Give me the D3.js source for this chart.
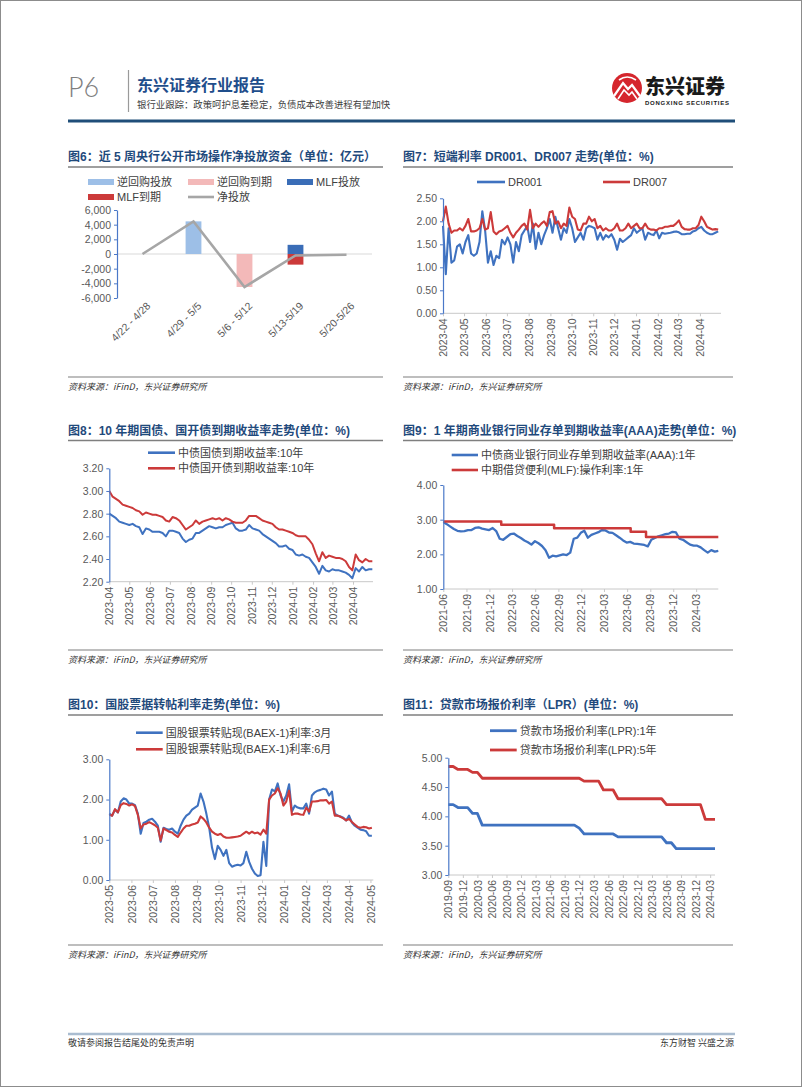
<!DOCTYPE html>
<html><head><meta charset="utf-8">
<script src="https://cdn.jsdelivr.net/npm/d3@7"></script>
<style>body{margin:0;background:#fff;}svg{display:block;}</style>
</head><body>
<svg id="c" width="802" height="1087"></svg>
<script>
// ---------------- DATA ----------------
// Fig 6
const weekCats = ["4/22 - 4/28","4/29 - 5/5","5/6 - 5/12","5/13-5/19","5/20-5/26"];
const rrInject = [0, 4450, 0, 0, 0];
const rrMature = [0, 0, -4500, 0, 0];
const mlfInject = [0, 0, 0, 1250, 0];
const mlfMature = [0, 0, 0, -1450, 0];
const netInject = [0, 4450, -4500, -200, -100];
const fig6Ticks = [-6000,-4000,-2000,0,2000,4000,6000];
// Fig 7 (sampled every 4 days from 2023-04-01)
const drStart = "2023-04-01", drStep = 4;
const dr001 = [1.90,0.85,1.85,1.10,1.15,1.45,1.50,1.30,1.55,1.70,
 1.30,1.25,1.30,1.55,2.22,1.80,1.10,1.35,1.05,1.25,
 1.20,1.60,1.50,1.65,1.50,1.10,1.55,1.35,1.70,1.80,
 1.90,1.55,1.95,1.40,1.75,1.50,1.70,1.85,2.05,1.75,
 2.10,1.85,1.60,1.85,1.75,2.05,1.85,1.55,1.65,1.75,
 1.60,1.85,1.90,1.88,1.85,1.60,1.75,1.60,1.70,1.65,
 1.72,1.60,1.38,1.62,1.55,1.60,1.65,1.70,1.85,1.75,
 1.80,1.85,1.60,1.75,1.72,1.70,1.80,1.63,1.75,1.73,
 1.74,1.75,1.77,1.78,1.76,1.72,1.72,1.73,1.73,1.78,
 1.80,1.85,1.88,1.80,1.75,1.72,1.72,1.75,1.78];
const dr007 = [2.00,2.32,1.95,1.75,1.80,1.80,1.85,1.80,1.90,2.05,
 1.78,1.78,1.80,1.85,2.05,1.82,1.85,2.20,1.78,1.72,
 1.78,1.80,1.85,1.90,1.75,1.65,1.75,1.82,1.90,1.95,
 1.82,2.25,1.85,1.95,1.88,1.95,2.00,1.90,2.20,2.22,
 1.95,2.00,1.85,1.95,1.90,2.30,2.10,2.05,1.82,1.80,
 1.95,1.95,2.10,2.00,2.05,1.85,1.90,1.80,1.85,1.80,
 1.80,1.85,1.95,1.80,1.80,1.85,1.95,1.85,1.90,1.95,
 1.85,1.85,1.95,1.85,1.82,1.82,1.80,1.85,1.85,1.88,
 1.88,1.90,1.90,1.95,2.02,1.88,1.83,1.82,1.82,1.85,
 1.85,1.92,2.10,2.00,1.88,1.85,1.82,1.83,1.82];
const monthTicks2023 = ["2023-04","2023-05","2023-06","2023-07","2023-08","2023-09","2023-10","2023-11","2023-12","2024-01","2024-02","2024-03","2024-04"];
const fig7YTicks = [0,0.5,1.0,1.5,2.0,2.5];
// Fig 8 (sampled every 5 days from 2023-04-01)
const bondStart = "2023-04-01", bondStep = 5;
const gov10y = [2.80,2.78,2.76,2.73,2.72,2.71,2.70,2.71,2.69,2.68,
 2.62,2.67,2.66,2.64,2.64,2.64,2.63,2.60,2.65,2.65,
 2.64,2.63,2.58,2.55,2.57,2.58,2.63,2.63,2.65,2.67,
 2.69,2.68,2.67,2.68,2.68,2.70,2.71,2.72,2.67,2.65,
 2.65,2.66,2.70,2.67,2.66,2.65,2.62,2.60,2.58,2.56,
 2.54,2.51,2.51,2.52,2.49,2.48,2.44,2.43,2.44,2.42,
 2.41,2.37,2.33,2.27,2.34,2.30,2.29,2.31,2.30,2.30,
 2.29,2.28,2.26,2.23,2.32,2.29,2.33,2.30,2.31,2.31];
const cdb10y = [3.00,2.95,2.93,2.91,2.88,2.87,2.86,2.85,2.83,2.82,
 2.79,2.81,2.80,2.79,2.79,2.78,2.77,2.74,2.73,2.77,
 2.76,2.74,2.70,2.66,2.68,2.70,2.74,2.71,2.73,2.74,
 2.75,2.76,2.75,2.76,2.74,2.76,2.75,2.73,2.72,2.72,
 2.72,2.74,2.78,2.78,2.78,2.76,2.74,2.73,2.72,2.71,
 2.68,2.66,2.66,2.65,2.64,2.63,2.61,2.60,2.60,2.60,
 2.57,2.53,2.45,2.38,2.46,2.41,2.43,2.42,2.41,2.41,
 2.40,2.38,2.33,2.30,2.44,2.39,2.37,2.40,2.38,2.38];
const fig8YTicks = [2.2,2.4,2.6,2.8,3.0,3.2];
// Fig 9 (CD sampled every 14 days from 2021-06-01)
const cdStart = "2021-06-01", cdStep = 14;
const cdAAA1y = [2.93,2.87,2.80,2.73,2.68,2.66,2.67,2.70,2.70,2.76,
 2.78,2.74,2.72,2.70,2.76,2.67,2.45,2.42,2.50,2.58,
 2.60,2.53,2.47,2.40,2.35,2.28,2.38,2.32,2.24,2.12,
 1.90,1.96,1.94,1.97,2.00,1.98,2.05,2.45,2.48,2.62,
 2.68,2.48,2.56,2.60,2.64,2.70,2.69,2.63,2.62,2.55,
 2.48,2.40,2.34,2.36,2.31,2.30,2.29,2.27,2.23,2.42,
 2.47,2.52,2.55,2.58,2.60,2.65,2.63,2.45,2.42,2.35,
 2.28,2.25,2.25,2.20,2.12,2.05,2.12,2.08,2.10];
const mlfDates = ["2021-06-01","2022-01-17","2022-08-15","2023-06-15","2023-08-15","2024-05-28"];
const mlfRates = [2.95,2.85,2.75,2.65,2.50,2.50];
const quarterTicks = ["2021-06","2021-09","2021-12","2022-03","2022-06","2022-09","2022-12","2023-03","2023-06","2023-09","2023-12","2024-03"];
const fig9YTicks = [1,2,3,4];
// Fig 10 (sampled every 4 days from 2023-05-01)
const billStart = "2023-05-01", billStep = 4;
const bill3m = [1.65,1.60,1.75,1.68,1.95,2.03,2.00,1.90,1.90,1.86,
 1.65,1.15,1.42,1.45,1.50,1.52,1.45,1.35,0.95,1.30,
 1.27,1.25,1.28,1.20,1.15,1.35,1.50,1.60,1.65,1.75,
 1.80,1.85,2.15,1.95,1.65,1.30,0.80,0.52,0.85,0.75,
 0.60,0.75,0.42,0.33,0.36,0.38,0.36,0.42,0.70,0.45,
 0.28,0.16,0.10,0.12,0.95,0.35,2.00,2.25,2.20,2.40,
 2.10,1.95,2.10,2.38,1.70,1.85,1.80,1.78,1.78,1.90,
 1.65,2.10,2.18,2.22,2.24,2.27,2.25,2.10,2.20,1.65,
 1.60,1.58,1.55,1.48,1.60,1.43,1.35,1.30,1.25,1.24,
 1.21,1.10,1.10];
const bill6m = [1.62,1.60,1.76,1.68,1.86,1.91,1.89,1.85,1.88,1.84,
 1.62,1.28,1.38,1.40,1.44,1.40,1.36,1.30,0.98,1.28,
 1.24,1.20,1.18,1.12,1.07,1.18,1.28,1.35,1.35,1.38,
 1.40,1.43,1.58,1.52,1.43,1.30,1.20,1.15,1.12,1.15,
 1.08,1.05,1.05,1.06,1.07,1.08,1.10,1.15,1.20,1.15,
 1.20,1.16,1.18,1.13,1.25,1.15,2.00,2.10,2.15,2.28,
 2.15,1.85,1.95,2.22,1.62,1.65,1.65,1.63,1.62,1.80,
 1.70,1.95,1.95,1.96,1.98,1.98,1.99,1.90,1.95,1.60,
 1.60,1.57,1.53,1.48,1.52,1.44,1.38,1.32,1.30,1.32,
 1.31,1.28,1.30];
const billTicks = ["2023-05","2023-06","2023-07","2023-08","2023-09","2023-10","2023-11","2023-12","2024-01","2024-02","2024-03","2024-04","2024-05"];
const fig10YTicks = [0,1,2,3];
// Fig 11 (monthly LPR)
const lprMonths = ["2019-09","2019-10","2019-11","2019-12",
 "2020-01","2020-02","2020-03","2020-04","2020-05","2020-06","2020-07","2020-08","2020-09","2020-10","2020-11","2020-12",
 "2021-01","2021-02","2021-03","2021-04","2021-05","2021-06","2021-07","2021-08","2021-09","2021-10","2021-11","2021-12",
 "2022-01","2022-02","2022-03","2022-04","2022-05","2022-06","2022-07","2022-08","2022-09","2022-10","2022-11","2022-12",
 "2023-01","2023-02","2023-03","2023-04","2023-05","2023-06","2023-07","2023-08","2023-09","2023-10","2023-11","2023-12",
 "2024-01","2024-02","2024-03","2024-04"];
const lpr1y = [4.20,4.20,4.15,4.15,
 4.15,4.05,4.05,3.85,3.85,3.85,3.85,3.85,3.85,3.85,3.85,3.85,
 3.85,3.85,3.85,3.85,3.85,3.85,3.85,3.85,3.85,3.85,3.85,3.80,
 3.70,3.70,3.70,3.70,3.70,3.70,3.70,3.65,3.65,3.65,3.65,3.65,
 3.65,3.65,3.65,3.65,3.65,3.55,3.55,3.45,3.45,3.45,3.45,3.45,
 3.45,3.45,3.45,3.45];
const lpr5y = [4.85,4.85,4.80,4.80,
 4.80,4.75,4.75,4.65,4.65,4.65,4.65,4.65,4.65,4.65,4.65,4.65,
 4.65,4.65,4.65,4.65,4.65,4.65,4.65,4.65,4.65,4.65,4.65,4.65,
 4.60,4.60,4.60,4.60,4.45,4.45,4.45,4.30,4.30,4.30,4.30,4.30,
 4.30,4.30,4.30,4.30,4.30,4.20,4.20,4.20,4.20,4.20,4.20,4.20,
 4.20,3.95,3.95,3.95];
const fig11YTicks = [3.0,3.5,4.0,4.5,5.0];

// ---------------- DRAW ----------------
const svg = d3.select("#c");
const FONT = "'Liberation Sans', Arial, 'Noto Sans CJK SC', sans-serif";
const CJK = "'Noto Sans CJK SC', sans-serif";
const BLUE = "#3f72c0", RED = "#cc3a3a", AXIS = "#4a78c8", TXT = "#595959", TITLE = "#1f4a7c";
const parseDay = d3.timeParse("%Y-%m-%d"), parseMonth = d3.timeParse("%Y-%m");
const fmtMonth = d3.timeFormat("%Y-%m");

function stepSeries(start, step, vals){
  const s = parseDay(start);
  return vals.map((v,i)=>({date:d3.timeDay.offset(s, i*step), v}));
}

// page border
svg.append("rect").attr("x",0.5).attr("y",0.5).attr("width",801).attr("height",1086)
  .attr("fill","none").attr("stroke","#8c8c8c");

// header
svg.append("text").attr("x",68).attr("y",97).text("P6")
  .style("font-family","'Lato','Liberation Sans',sans-serif").style("font-weight",300)
  .style("font-size","27px").attr("fill","#7f7f7f");
svg.append("line").attr("x1",128.5).attr("x2",128.5).attr("y1",70).attr("y2",112).attr("stroke","#9a9a9a").attr("stroke-width",1.2);
svg.append("text").attr("x",137).attr("y",91).text("东兴证券行业报告")
  .style("font-family",CJK).style("font-weight",700).style("font-size","16px").attr("fill","#1f4e8c");
svg.append("text").attr("x",137).attr("y",108).text("银行业跟踪：政策呵护息差稳定，负债成本改善进程有望加快")
  .style("font-family",CJK).style("font-size","9.4px").attr("fill","#404040");
// logo
const logo = svg.append("g");
logo.append("circle").attr("cx",627).attr("cy",88).attr("r",15).attr("fill","#d5262d");
logo.append("path").attr("d","M614,96 L623,83 L628,89 L632,85 L640,96").attr("fill","none").attr("stroke","#fff").attr("stroke-width",2.2);
logo.append("path").attr("d","M618,99 L624,90 L629,95 L632,92 L637,99").attr("fill","none").attr("stroke","#fff").attr("stroke-width",1.6);
logo.append("path").attr("d","M619,80 Q627,74 636,80").attr("fill","none").attr("stroke","#fff").attr("stroke-width",1.6);
logo.append("text").attr("x",645).attr("y",94).text("东兴证券")
  .style("font-family",CJK).style("font-weight",900).style("font-size","20px").attr("fill","#1a1a1a");
logo.append("text").attr("x",645).attr("y",104.5).text("DONGXING SECURITIES").attr("textLength",84)
  .style("font-family",FONT).style("font-weight",700).style("font-size","6px").attr("fill","#1a1a1a");
svg.append("line").attr("x1",68).attr("x2",735).attr("y1",121).attr("y2",121).attr("stroke","#1f4e79").attr("stroke-width",3);

// footer
svg.append("line").attr("x1",68).attr("x2",735).attr("y1",1034).attr("y2",1034).attr("stroke","#a9bcd0").attr("stroke-width",2.5);
svg.append("text").attr("x",68).attr("y",1046).text("敬请参阅报告结尾处的免责声明")
  .style("font-family",CJK).style("font-size","9px").attr("fill","#333");
svg.append("text").attr("x",734).attr("y",1046).attr("text-anchor","end").text("东方财智 兴盛之源")
  .style("font-family",CJK).style("font-size","9px").attr("fill","#333");

function panelFrame(x1, x2, titleY, title, srcY){
  svg.append("text").attr("x",x1).attr("y",titleY).text(title)
    .style("font-family",FONT).style("font-weight",700).style("font-size","12px").attr("fill",TITLE);
  svg.append("line").attr("x1",x1).attr("x2",x2).attr("y1",titleY+6).attr("y2",titleY+6).attr("stroke","#7f7f7f").attr("stroke-width",1.5);
  svg.append("line").attr("x1",x1).attr("x2",x2).attr("y1",srcY).attr("y2",srcY).attr("stroke","#7f7f7f").attr("stroke-width",1.2);
  svg.append("text").attr("x",x1).attr("y",srcY+13).text("资料来源：iFinD，东兴证券研究所")
    .style("font-family",CJK).style("font-style","italic").style("font-size","9px").attr("fill","#333");
}

function yAxis(y, left, ticks, fmt){
  const g = svg.append("g").attr("transform",`translate(${left},0)`)
    .call(d3.axisLeft(y).tickValues(ticks).tickFormat(fmt).tickSize(3).tickSizeOuter(0).tickPadding(3));
  g.select(".domain").attr("stroke",AXIS).attr("stroke-width",1.2);
  g.selectAll(".tick line").attr("stroke",AXIS);
  g.selectAll("text").attr("fill",TXT).style("font-family",FONT).style("font-size","10.5px");
  return g;
}

function legendLine(x1, x2, y, color, label, w){
  svg.append("line").attr("x1",x1).attr("x2",x2).attr("y1",y).attr("y2",y).attr("stroke",color).attr("stroke-width",w||2.6);
  svg.append("text").attr("x",x2+3).attr("y",y).attr("dy","0.35em").text(label)
    .style("font-family",FONT).style("font-size","11px").attr("fill","#404040");
}

function timeChart(cfg){
  const x = d3.scaleTime().domain(cfg.xDomain.map(parseDay)).range([cfg.left, cfg.right]);
  const y = d3.scaleLinear().domain(cfg.yDomain).range([cfg.bottom, cfg.top]);
  svg.append("line").attr("x1",cfg.left).attr("x2",cfg.right).attr("y1",cfg.bottom).attr("y2",cfg.bottom).attr("stroke","#c8c8c8");
  const xg = svg.append("g").attr("transform",`translate(0,${cfg.bottom})`)
    .call(d3.axisBottom(x).tickValues(cfg.xTicks.map(parseMonth)).tickFormat(fmtMonth).tickSize(3).tickSizeOuter(0));
  xg.select(".domain").remove();
  xg.selectAll(".tick line").attr("stroke","#c8c8c8");
  xg.selectAll("text").attr("transform","rotate(-90)").attr("text-anchor","end")
    .attr("x",-5).attr("y",0).attr("dy","0.35em")
    .attr("fill",TXT).style("font-family",FONT).style("font-size","10.5px");
  cfg.series.forEach(s=>{
    svg.append("path").datum(s.data)
      .attr("d", d3.line().x(d=>x(d.date)).y(d=>y(d.v)).curve(s.curve||d3.curveLinear))
      .attr("fill","none").attr("stroke",s.color).attr("stroke-width",s.width||2)
      .attr("stroke-linejoin","round");
  });
  yAxis(y, cfg.left, cfg.yTicks, d3.format(".2f"));
}

// ---- Fig 6 ----
panelFrame(68, 383, 161, "图6：近 5 周央行公开市场操作净投放资金（单位：亿元）", 377);
(function(){
  const left = 117, right = 372;
  const x = d3.scaleBand().domain(weekCats).range([left,right]).paddingInner(0.69).paddingOuter(0.345);
  const y = d3.scaleLinear().domain([-6000,6000]).range([298,210]);
  svg.append("line").attr("x1",left).attr("x2",right).attr("y1",y(0)).attr("y2",y(0)).attr("stroke","#d9d9d9").attr("stroke-width",1.2);
  const barSeries = [
    {vals: rrInject, color:"#9dbfe7"},
    {vals: rrMature, color:"#f3b9b9"},
    {vals: mlfInject, color:"#3a6db7"},
    {vals: mlfMature, color:"#cc3a3a"}
  ];
  const posBase = weekCats.map(()=>0), negBase = weekCats.map(()=>0);
  barSeries.forEach(s=>{
    s.vals.forEach((v,i)=>{
      if(v===0) return;
      const base = v>0 ? posBase[i] : negBase[i];
      const top = base + v;
      svg.append("rect").attr("x",x(weekCats[i])).attr("width",x.bandwidth())
        .attr("y",Math.min(y(base),y(top))).attr("height",Math.abs(y(top)-y(base)))
        .attr("fill",s.color);
      if(v>0) posBase[i]=top; else negBase[i]=top;
    });
  });
  svg.append("path").datum(netInject)
    .attr("d", d3.line().x((d,i)=>x(weekCats[i])+x.bandwidth()/2).y(d=>y(d)))
    .attr("fill","none").attr("stroke","#a6a6a6").attr("stroke-width",2.6);
  const fmt = d=> (d<0?"-":"") + d3.format(",")(Math.abs(d));
  yAxis(y, left, fig6Ticks, fmt);
  weekCats.forEach(c=>{
    svg.append("text").attr("transform",`translate(${x(c)+x.bandwidth()/2+6},304) rotate(-45)`)
      .attr("text-anchor","end").attr("dy","0.35em").text(c)
      .attr("fill",TXT).style("font-family",FONT).style("font-size","10.5px");
  });
  // legend
  const lg = [
    {x:88,y:182,type:"rect",color:"#9dbfe7",label:"逆回购投放"},
    {x:188,y:182,type:"rect",color:"#f3b9b9",label:"逆回购到期"},
    {x:287,y:182,type:"rect",color:"#3a6db7",label:"MLF投放"},
    {x:88,y:197,type:"rect",color:"#cc3a3a",label:"MLF到期"},
    {x:188,y:197,type:"line",color:"#a6a6a6",label:"净投放"}
  ];
  lg.forEach(l=>{
    if(l.type==="rect") svg.append("rect").attr("x",l.x).attr("y",l.y-3).attr("width",26).attr("height",6).attr("fill",l.color);
    else svg.append("line").attr("x1",l.x).attr("x2",l.x+26).attr("y1",l.y).attr("y2",l.y).attr("stroke",l.color).attr("stroke-width",2.6);
    svg.append("text").attr("x",l.x+29).attr("y",l.y).attr("dy","0.35em").text(l.label)
      .style("font-family",FONT).style("font-size","11px").attr("fill","#404040");
  });
})();

// ---- Fig 7 ----
panelFrame(403, 733, 161, "图7：短端利率 DR001、DR007 走势(单位：%)", 377);
timeChart({left:443, right:721, top:198.3, bottom:313.3,
  xDomain:["2023-04-01","2024-05-01"], yDomain:[0,2.5], yTicks:fig7YTicks, xTicks:monthTicks2023,
  series:[
    {data:stepSeries(drStart, drStep, dr001), color:BLUE, width:2.1},
    {data:stepSeries(drStart, drStep, dr007), color:RED, width:2.1}
  ]});
legendLine(477, 505, 182, BLUE, "DR001");
legendLine(603, 630, 182, RED, "DR007");

// ---- Fig 8 ----
panelFrame(68, 383, 434.5, "图8：10 年期国债、国开债到期收益率走势(单位：%)", 650);
timeChart({left:109.3, right:373, top:468.3, bottom:581.7,
  xDomain:["2023-04-01","2024-05-01"], yDomain:[2.2,3.2], yTicks:fig8YTicks, xTicks:monthTicks2023,
  series:[
    {data:stepSeries(bondStart, bondStep, gov10y), color:BLUE, width:2},
    {data:stepSeries(bondStart, bondStep, cdb10y), color:RED, width:2}
  ]});
legendLine(148, 175, 452.7, BLUE, "中债国债到期收益率:10年");
legendLine(148, 175, 468.3, RED, "中债国开债到期收益率:10年");

// ---- Fig 9 ----
panelFrame(403, 733, 434.5, "图9：1 年期商业银行同业存单到期收益率(AAA)走势(单位：%)", 650);
timeChart({left:443.3, right:718.3, top:485, bottom:589,
  xDomain:["2021-06-01","2024-05-28"], yDomain:[1,4], yTicks:fig9YTicks, xTicks:quarterTicks,
  series:[
    {data:stepSeries(cdStart, cdStep, cdAAA1y), color:BLUE, width:2.3},
    {data:mlfDates.map((d,i)=>({date:parseDay(d), v:mlfRates[i]})), color:RED, width:2.5, curve:d3.curveStepAfter}
  ]});
legendLine(451.7, 478, 455, BLUE, "中债商业银行同业存单到期收益率(AAA):1年");
legendLine(451.7, 478, 470, RED, "中期借贷便利(MLF):操作利率:1年");

// ---- Fig 10 ----
panelFrame(68, 383, 709, "图10：国股票据转帖利率走势(单位：%)", 945);
timeChart({left:109.3, right:373.3, top:759.3, bottom:880,
  xDomain:["2023-05-01","2024-05-05"], yDomain:[0,3], yTicks:fig10YTicks, xTicks:billTicks,
  series:[
    {data:stepSeries(billStart, billStep, bill3m), color:BLUE, width:2.1},
    {data:stepSeries(billStart, billStep, bill6m), color:RED, width:2.1}
  ]});
legendLine(136, 162.7, 732.7, BLUE, "国股银票转贴现(BAEX-1)利率:3月");
legendLine(136, 162.7, 749.3, RED, "国股银票转贴现(BAEX-1)利率:6月");

// ---- Fig 11 ----
panelFrame(403, 733, 709, "图11：贷款市场报价利率（LPR）(单位：%)", 945);
(function(){
  const left = 448.3, right = 715, top = 757.7, bottom = 875;
  const x = d3.scalePoint().domain(lprMonths).range([left,right]);
  const y = d3.scaleLinear().domain([3,5]).range([bottom,top]);
  svg.append("line").attr("x1",left).attr("x2",right).attr("y1",bottom).attr("y2",bottom).attr("stroke","#c8c8c8");
  const ticks = lprMonths.filter((m,i)=>i%3===0);
  const xg = svg.append("g").attr("transform",`translate(0,${bottom})`)
    .call(d3.axisBottom(x).tickValues(ticks).tickSize(3).tickSizeOuter(0));
  xg.select(".domain").remove();
  xg.selectAll(".tick line").attr("stroke","#c8c8c8");
  xg.selectAll("text").attr("transform","rotate(-90)").attr("text-anchor","end")
    .attr("x",-5).attr("y",0).attr("dy","0.35em")
    .attr("fill",TXT).style("font-family",FONT).style("font-size","10.5px");
  [[lpr1y,BLUE],[lpr5y,RED]].forEach(([vals,color])=>{
    svg.append("path").datum(vals)
      .attr("d", d3.line().x((d,i)=>x(lprMonths[i])).y(d=>y(d)))
      .attr("fill","none").attr("stroke",color).attr("stroke-width",2.8).attr("stroke-linejoin","round");
  });
  yAxis(y, left, fig11YTicks, d3.format(".2f"));
})();
legendLine(490, 516.7, 730.7, BLUE, "贷款市场报价利率(LPR):1年", 2.8);
legendLine(490, 516.7, 750, RED, "贷款市场报价利率(LPR):5年", 2.8);
</script>
</body></html>
